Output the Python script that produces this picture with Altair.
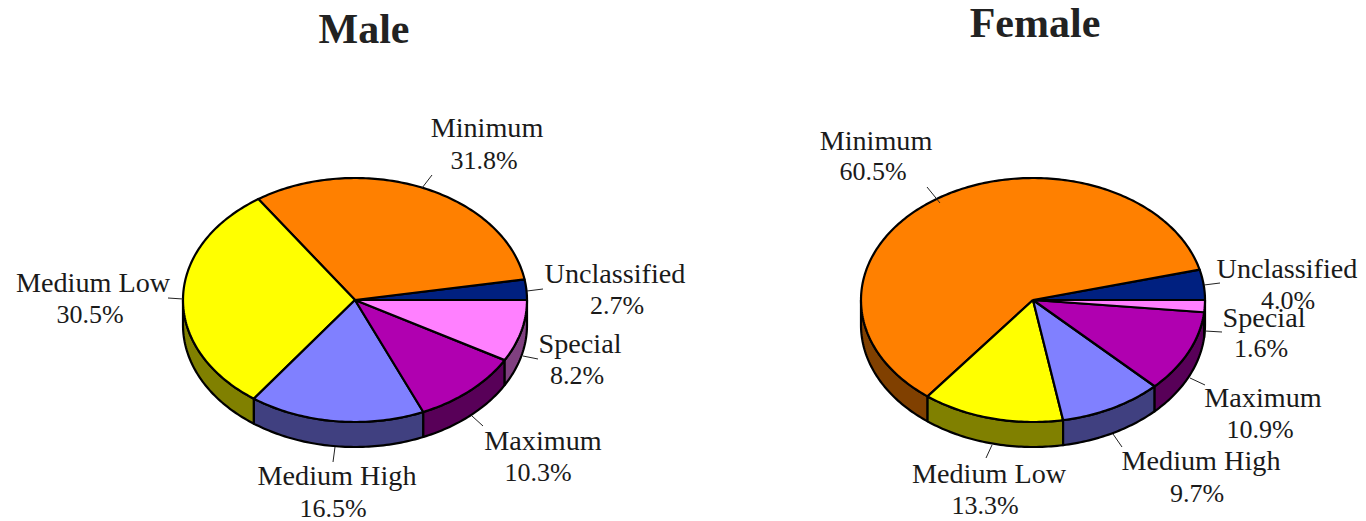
import math
import altair as alt
import pandas as pd

CATEGORIES = ["Unclassified", "Minimum", "Medium Low", "Medium High", "Maximum", "Special"]
MALE_VALUES = [2.7, 31.8, 30.5, 16.5, 10.3, 8.2]
FEMALE_VALUES = [4.0, 60.5, 13.3, 9.7, 10.9, 1.6]

TOP_COLORS = ["#002080", "#FF8000", "#FFFF00", "#8080FF", "#B000B0", "#FF80FF"]
SIDE_COLORS = ["#001040", "#804000", "#808000", "#404080", "#580058", "#804080"]

FONT = "Liberation Serif"
RX, RY, DEPTH = 172, 122, 25
CY = 300

XS = alt.Scale(domain=[8, 1358], nice=False, zero=False)
YS = alt.Scale(domain=[520, 8], nice=False, zero=False)
X = alt.X("x:Q", scale=XS, axis=None)
Y = alt.Y("y:Q", scale=YS, axis=None)


def ellipse(cx, deg, drop=0):
    a = math.radians(deg)
    return cx + RX * math.cos(a), CY - RY * math.sin(a) + drop


def arc_angles(a0, a1):
    n = max(2, int(abs(a1 - a0)) + 1)
    return [a0 + (a1 - a0) * i / n for i in range(n + 1)]


def pie_polygons(values, cx):
    spans = []
    cum = 0.0
    total = sum(values)
    for v in values:
        spans.append((cum / total * 360, (cum + v) / total * 360))
        cum += v
    polys = []
    for i, (a0, a1) in enumerate(spans):
        s0 = max(a0, 180)
        if a1 <= 180:
            continue
        pts = [ellipse(cx, a) for a in arc_angles(s0, a1)]
        pts += [ellipse(cx, a, DEPTH) for a in arc_angles(a1, s0)]
        polys.append((pts + [pts[0]], SIDE_COLORS[i]))
    for i, (a0, a1) in enumerate(spans):
        pts = [(cx, CY)] + [ellipse(cx, a) for a in arc_angles(a0, a1)] + [(cx, CY)]
        polys.append((pts, TOP_COLORS[i]))
    return polys


def panel_layers(name, values, cx, title_pos, leaders, name_pos, pct_pos):
    layers = []
    for pts, color in pie_polygons(values, cx):
        df = pd.DataFrame([dict(k=k, x=x, y=y) for k, (x, y) in enumerate(pts)])
        layers.append(
            alt.Chart(df)
            .mark_line(stroke="black", strokeWidth=2.2, fill=color, strokeJoin="round", clip=False)
            .encode(x=X, y=Y, order="k:Q")
        )

    lead_df = pd.DataFrame(
        [dict(cat=c, x=a, y=b, x2=d, y2=e) for c, (a, b, d, e) in zip(CATEGORIES, leaders)]
    )
    layers.append(
        alt.Chart(lead_df)
        .mark_rule(color="#222222", strokeWidth=1)
        .encode(x=X, y=Y, x2="x2:Q", y2="y2:Q")
    )

    names = pd.DataFrame([dict(t=c, x=n[0], y=n[1]) for c, n in zip(CATEGORIES, name_pos)])
    pcts = pd.DataFrame([dict(t=f"{v:.1f}%", x=p[0], y=p[1]) for v, p in zip(values, pct_pos)])
    layers.append(
        alt.Chart(names)
        .mark_text(font=FONT, fontSize=28.2, color="#1a1a1a", align="center", baseline="middle")
        .encode(x=X, y=Y, text="t:N")
    )
    layers.append(
        alt.Chart(pcts)
        .mark_text(font=FONT, fontSize=26, color="#1a1a1a", align="center", baseline="middle")
        .encode(x=X, y=Y, text="t:N")
    )
    layers.append(
        alt.Chart(pd.DataFrame([dict(t=name, x=title_pos[0], y=title_pos[1])]))
        .mark_text(font=FONT, fontSize=42, fontWeight="bold", color="#222222",
                   align="center", baseline="middle")
        .encode(x=X, y=Y, text="t:N")
    )
    return layers


male = panel_layers(
    "Male", MALE_VALUES, 355, (364, 30),
    leaders=[(527, 291, 543, 289), (422, 188, 432, 175), (183, 299, 168, 298),
             (335, 447, 333, 462), (472, 416, 483, 426), (523, 356, 538, 359)],
    name_pos=[(615, 275), (487, 129), (93, 284), (337, 477), (543, 442), (580, 345)],
    pct_pos=[(617, 306), (484, 161), (90, 315), (333, 509), (538, 473), (577, 376)],
)
female = panel_layers(
    "Female", FEMALE_VALUES, 1033, (1035, 24),
    leaders=[(1204, 285, 1220, 283), (940, 203, 927, 187), (992, 445, 986, 458),
             (1113, 434, 1122, 447), (1190, 378, 1205, 385), (1205, 331, 1222, 332)],
    name_pos=[(1287, 270), (876, 142), (989, 475), (1201, 462), (1263, 399), (1264, 319)],
    pct_pos=[(1288, 301), (873, 172), (985, 506), (1197, 494), (1260, 430), (1261, 349)],
)

chart = (
    alt.layer(*male, *female)
    .properties(width=1350, height=512, padding=0, background="white",
                autosize=alt.AutoSizeParams(type="none"))
    .configure_view(stroke=None)
)
chart.save("out.html", embed_options={"renderer": "svg", "actions": False})
